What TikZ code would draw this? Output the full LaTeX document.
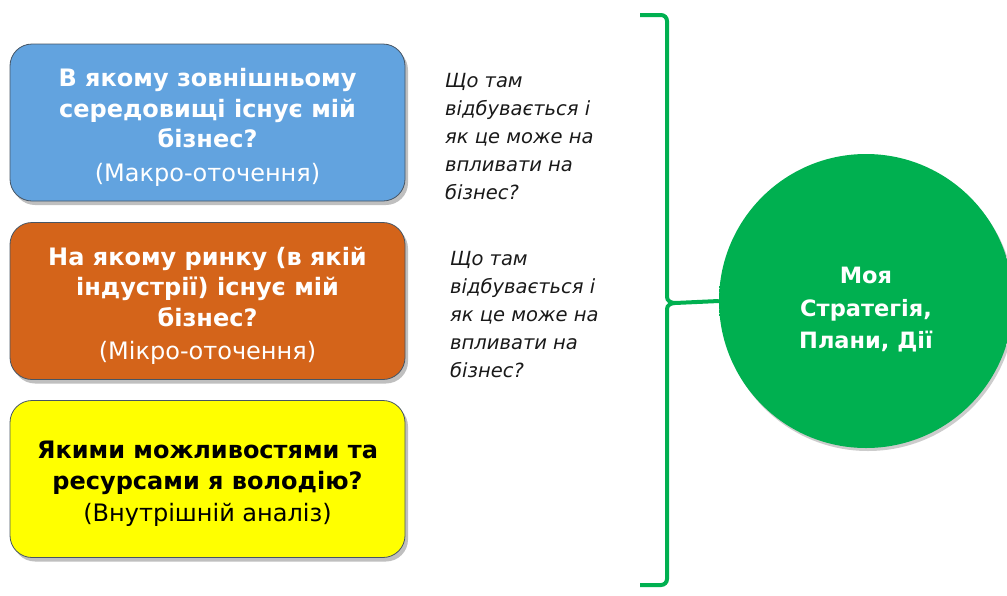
\documentclass[tikz,border=0pt]{standalone}
\usepackage{fontspec}
\setmainfont{DejaVu Sans}
\usetikzlibrary{shadows}
\definecolor{boxblue}{RGB}{98,163,223}
\definecolor{boxorange}{RGB}{212,100,26}
\definecolor{boxyellow}{RGB}{255,255,0}
\definecolor{boxedge}{RGB}{70,85,100}
\definecolor{strgreen}{RGB}{0,176,80}
\definecolor{rimgreen}{RGB}{60,215,125}
\pgfdeclareradialshading{greenrim}{\pgfpoint{0bp}{-4bp}}{color(0bp)=(strgreen); color(38bp)=(strgreen); color(50bp)=(rimgreen)}
\begin{document}
\begin{tikzpicture}[x=1pt,y=-1pt,
  qbox/.style={draw=boxedge, line width=0.8pt, rounded corners=22pt,
    minimum width=395pt, minimum height=157pt, inner sep=0pt,
    drop shadow={shadow xshift=3pt, shadow yshift=-4pt, opacity=0.25, fill=black}},
  qtext/.style={align=center, inner sep=0pt,
    font=\fontsize{24}{30.5}\selectfont\bfseries},
  note/.style={anchor=north west, align=left, inner sep=0pt,
    font=\fontsize{19.5}{28}\selectfont\itshape, text=black!90},
  bracestyle/.style={draw=strgreen, line width=4pt},
  goal/.style={circle, shading=greenrim, minimum size=294pt, inner sep=0pt,
    drop shadow={shadow xshift=2pt, shadow yshift=-3pt, opacity=0.2, fill=black}},
  goaltext/.style={align=center, text=white, font=\fontsize{22.5}{32.5}\selectfont\bfseries}
]
\useasboundingbox (0,0) rectangle (1007,595);

\node[qbox, fill=boxblue] (b1) at (207.5,122.5) {};
\node[qtext, text=white] (b1t) at ([yshift=-5pt]b1.center)
  {В якому зовнішньому\\середовищі існує мій\\бізнес?\\[3pt]{\mdseries (Макро-оточення)}};
\node[qbox, fill=boxorange] (b2) at (207.5,301) {};
\node[qtext, text=white] (b2t) at ([yshift=-5pt]b2.center)
  {На якому ринку (в якій\\індустрії) існує мій\\бізнес?\\[3pt]{\mdseries (Мікро-оточення)}};
\node[qbox, fill=boxyellow] (b3) at (207.5,479) {};
\node[qtext, text=black] (b3t) at ([yshift=-5pt]b3.center)
  {Якими можливостями та\\ресурсами я володію?\\[2pt]{\mdseries (Внутрішній аналіз)}};

\node[note] (q1) at (445,73) {Що там\\відбувається і\\як це може на\\впливати на\\бізнес?};
\node[note] (q2) at (450,251) {Що там\\відбувається і\\як це може на\\впливати на\\бізнес?};

\node[goal] (g) at (866,301) {};
\node[goaltext] (gt) at ([yshift=-9pt]g.center) {Моя\\Стратегія,\\Плани, Дії};

\coordinate (btop) at (640,15);
\coordinate (bbot) at (640,585);
\coordinate (bcusp) at (675,303);
\draw[bracestyle] (btop) -- (661,15) to[out=0,in=90] (667,21) -- (667,297)
  to[out=-90,in=180] (bcusp) -- (g.west);
\draw[bracestyle] (bcusp) to[out=180,in=90] (667,309) -- (667,579)
  to[out=-90,in=0] (661,585) -- (bbot);
\end{tikzpicture}
\end{document}
